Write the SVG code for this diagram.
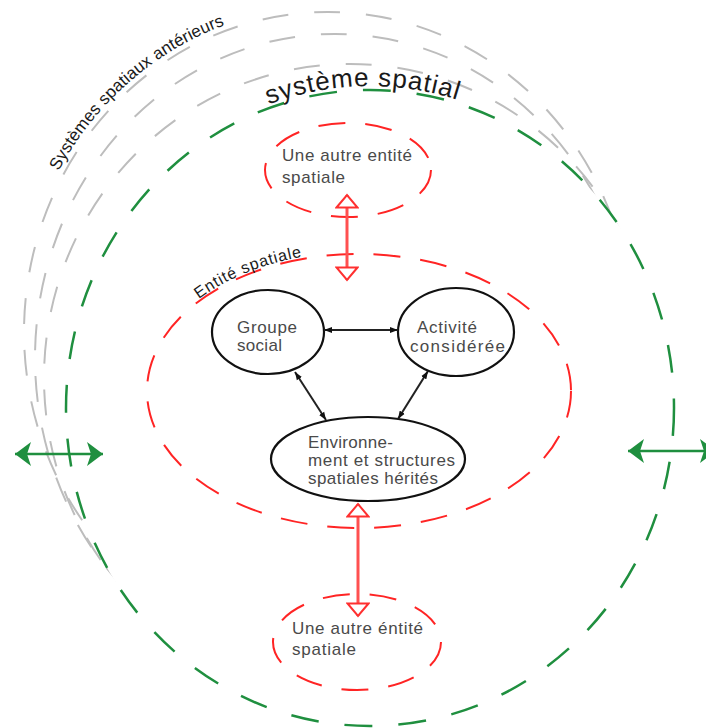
<svg xmlns="http://www.w3.org/2000/svg" width="706" height="728" viewBox="0 0 706 728">
<style>
.grn{fill:none;stroke:#1f8f3f;stroke-width:2.5;stroke-dasharray:28 26}
.gry{fill:none;stroke:#bdbdbd;stroke-width:2;stroke-dasharray:26 26}
.red{fill:none;stroke:#ff2424;stroke-width:2;stroke-dasharray:27 20}
.node{fill:#fff;stroke:#111;stroke-width:2.2}
.lbl{font-family:"Liberation Sans",Arial,sans-serif;font-size:17px;fill:#4a4a4a}
.arc{font-family:"Liberation Sans",Arial,sans-serif;fill:#1a1a1a}
.blk{fill:none;stroke:#222;stroke-width:2;marker-start:url(#ab);marker-end:url(#ab)}
.rar{fill:none;stroke:#ff5050;stroke-width:3;marker-start:url(#ar);marker-end:url(#ar)}
.gar{fill:none;stroke:#1f8f3f;stroke-width:2.5;marker-start:url(#ag);marker-end:url(#ag)}
</style>
<defs>
<clipPath id="outside">
<path clip-rule="evenodd" d="M0 0H706V728H0Z M66 408 A304 318 0 1 0 674 408 A304 318 0 1 0 66 408 Z"/>
</clipPath>
<path id="pGray" d="M58 172 A310 326 0 0 1 262 14"/>
<path id="pGreen" d="M262 107 A304 318 0 0 1 478 107"/>
<path id="pRed" d="M195 302 A212 137 0 0 1 330 253"/>
<marker id="ab" viewBox="0 0 8 8" refX="8" refY="4" markerWidth="8" markerHeight="8" markerUnits="userSpaceOnUse" orient="auto-start-reverse">
<path d="M0,1 L8,4 L0,7 z" fill="#111"/>
</marker>
<marker id="ar" viewBox="0 0 16 24" refX="14" refY="12" markerWidth="16" markerHeight="24" markerUnits="userSpaceOnUse" orient="auto-start-reverse">
<path d="M1.5,1.5 L14,12 L1.5,22.5 z" fill="#fff" stroke="#ff3030" stroke-width="2"/>
</marker>
<marker id="ag" viewBox="0 0 16 24" refX="16" refY="12" markerWidth="16" markerHeight="24" markerUnits="userSpaceOnUse" orient="auto-start-reverse">
<path d="M0,0 L16,12 L0,24 L4,12 z" fill="#1f8f3f"/>
</marker>
</defs>
<rect width="706" height="728" fill="#fff"/>

<g id="systemes-anterieurs">
<g clip-path="url(#outside)">
<ellipse class="gry" cx="328" cy="332" rx="304" ry="320"/>
<ellipse class="gry" cx="335" cy="358" rx="300" ry="324"/>
<ellipse class="gry" cx="350" cy="378" rx="306" ry="314"/>
</g>
<text class="arc" font-size="17"><textPath href="#pGray" startOffset="1" textLength="226">Systèmes spatiaux antérieurs</textPath></text>
</g>

<g id="systeme-spatial">
<ellipse class="grn" cx="370" cy="408" rx="304" ry="318"/>
<text class="arc" font-size="26" fill="#111"><textPath href="#pGreen" startOffset="7" textLength="192">système spatial</textPath></text>
</g>

<g id="entite-spatiale">
<ellipse class="red" cx="359" cy="391" rx="212" ry="137"/>
<text class="arc" font-size="16"><textPath href="#pRed" startOffset="5" textLength="112">Entité spatiale</textPath></text>
</g>

<g id="autre-entite-haut">
<ellipse class="red" cx="348" cy="170" rx="83" ry="47"/>
<text class="lbl" x="282" y="161" textLength="130">Une autre entité</text>
<text class="lbl" x="282" y="183" textLength="63">spatiale</text>
</g>

<g id="autre-entite-bas">
<ellipse class="red" cx="357" cy="642" rx="84" ry="48"/>
<text class="lbl" x="292" y="634" textLength="131">Une autre éntité</text>
<text class="lbl" x="292" y="655" textLength="64">spatiale</text>
</g>

<g id="groupe-social">
<ellipse class="node" cx="268" cy="332" rx="56" ry="42"/>
<text class="lbl" x="237" y="333" textLength="60">Groupe</text>
<text class="lbl" x="237" y="351" textLength="45">social</text>
</g>

<g id="activite">
<ellipse class="node" cx="456" cy="332" rx="58" ry="44"/>
<text class="lbl" x="417" y="333" textLength="60">Activité</text>
<text class="lbl" x="410" y="352" textLength="95">considérée</text>
</g>

<g id="environnement">
<ellipse class="node" cx="368" cy="459" rx="97" ry="42"/>
<text class="lbl" x="308" y="448" textLength="85">Environne-</text>
<text class="lbl" x="308" y="466" textLength="147">ment et structures</text>
<text class="lbl" x="308" y="484" textLength="130">spatiales hérités</text>
</g>

<g id="connecteurs">
<line class="blk" x1="324" y1="330" x2="398" y2="330"/>
<line class="blk" x1="295" y1="372" x2="326" y2="420"/>
<line class="blk" x1="428" y1="371" x2="398" y2="419"/>
<line class="rar" x1="347" y1="195" x2="347" y2="280"/>
<line class="rar" x1="358" y1="504" x2="358" y2="616"/>
<line class="gar" x1="15" y1="454" x2="103" y2="454"/>
<line class="gar" x1="628" y1="451" x2="716" y2="451"/>
</g>
</svg>
